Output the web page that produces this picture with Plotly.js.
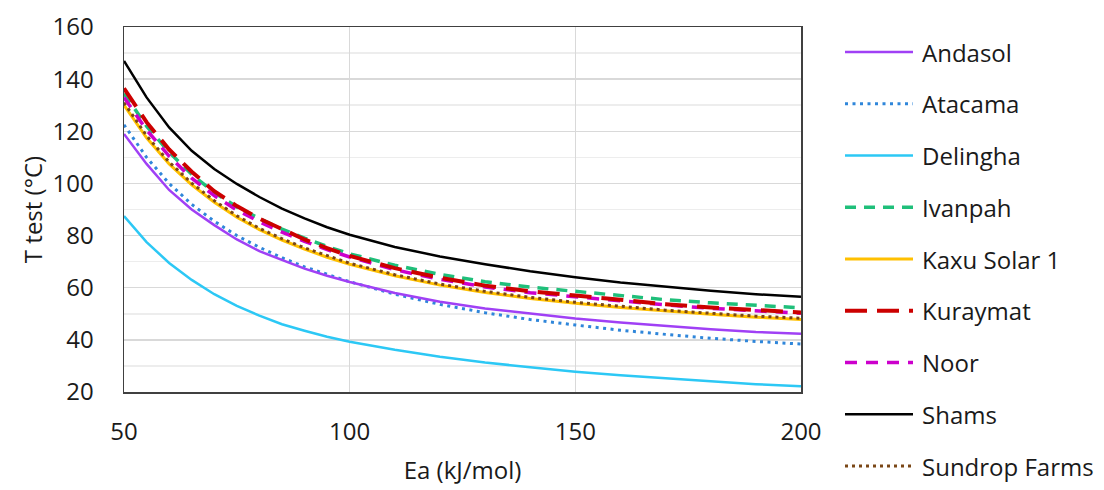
<!DOCTYPE html>
<html>
<head>
<meta charset="utf-8">
<script src="https://cdn.plot.ly/plotly-3.0.1.min.js"></script>
<style>html,body{margin:0;padding:0;background:#fff;}#chart{width:1104px;height:490px;}</style>
</head>
<body>
<div id="chart"></div>
<script>
const ea = [50,55,60,65,70,75,80,85,90,95,100,110,120,130,140,150,160,170,180,190,200];

const andasol  = [119,107.5,97.5,90,84,78.5,74,70.5,67.3,64.6,62.2,58,54.6,52,50,48.2,46.7,45.3,44.1,43,42.3];
const atacama  = [122.5,110,100,92,85.5,80,75.5,71.5,68,65,62.3,57.5,53.6,50.4,47.8,45.7,43.7,42.1,40.6,39.4,38.4];
const delingha = [87.5,77.5,69.5,63,57.5,53,49.3,46,43.5,41.2,39.3,36.2,33.5,31.3,29.5,27.8,26.4,25.2,24,23,22.2];
const ivanpah  = [134.5,122,112,103.5,96.5,91,86.5,82.5,79,75.8,73,68.6,65.1,62.3,60.2,58.6,56.9,55.4,54.2,53.1,52.3];
const kaxu     = [130,117.5,107.5,99.5,92.8,87,82.3,78.3,74.8,71.7,69,64.6,61,58.2,55.9,54,52.4,51,49.8,48.7,47.8];
const kuraymat = [136.5,123.5,113,104.5,97,91.3,86.5,82.3,78.5,75.2,72.2,67.5,63.8,60.8,58.6,57,55.2,53.7,52.4,51.3,50.5];
const noor     = [133,120.5,110.5,102,95.3,89.8,85.3,81.3,77.8,74.6,71.8,66.9,63.2,60.3,58.1,56.5,54.9,53.4,52.1,51,50.2];
const shams    = [147,133,121.5,112.5,105.5,99.8,94.8,90.3,86.6,83.2,80.3,75.6,72,69,66.3,64,62,60.3,58.8,57.5,56.5];
const sundrop  = [131,118.3,108.2,100.1,93.4,87.6,82.8,78.8,75.3,72.2,69.4,65,61.4,58.6,56.3,54.4,52.8,51.4,50.2,49.1,48.3];

const names  = ["Andasol","Atacama","Delingha","Ivanpah","Kaxu Solar 1","Kuraymat","Noor","Shams","Sundrop Farms"];
const series = [andasol, atacama, delingha, ivanpah, kaxu, kuraymat, noor, shams, sundrop];
const colors = ["#A040F5","#2F86DA","#2CC8F5","#1FBF7A","#FFC000","#CC0000","#CC00CC","#000000","#7A4716"];
const dashes = ["solid","3px,4.5px","solid","11px,8px","solid","22px,10px","12px,9px","solid","3px,4px"];
const widths = [2.5,3,2.5,3.5,3,4,3.5,2.5,3];
const order  = [2,1,0,4,8,3,6,5,7]; // drawing order (back to front)

const FONT = "'Open Sans', Lato, sans-serif";
const FS = 24;

const traces = order.map(i => ({
  x: ea, y: series[i], name: names[i], type: "scatter", mode: "lines",
  line: {color: colors[i], width: widths[i], dash: dashes[i]},
  showlegend: false
}));

// custom legend (long sample lines like the reference)
const L = 124, R = 801, T = 27, B = 392;
const pw = R - L, ph = B - T;
const shapes = [], annotations = [];
names.forEach((n, i) => {
  const yc = 52 + i * 51.75;
  const yp = (B - yc) / ph;
  shapes.push({type: "line", xref: "paper", yref: "paper",
    x0: (845 - L) / pw, x1: (913 - L) / pw, y0: yp, y1: yp,
    line: {color: colors[i], width: widths[i], dash: dashes[i]}});
  annotations.push({xref: "paper", yref: "paper", x: (920 - L) / pw, y: yp,
    xanchor: "left", yanchor: "middle", text: n, showarrow: false,
    font: {family: FONT, size: FS, color: "#1a1a1a"}});
});

const layout = {
  width: 1104, height: 490,
  margin: {l: L, r: 1104 - R, t: T, b: 490 - B, pad: 0},
  paper_bgcolor: "#fff", plot_bgcolor: "#fff",
  font: {family: FONT, size: FS, color: "#1a1a1a"},
  showlegend: false,
  xaxis: {
    range: [50, 200], dtick: 50, tick0: 50,
    showgrid: true, gridcolor: "#D9D9D9", gridwidth: 1.5,
    showline: true, linecolor: "#404040", linewidth: 1.5, mirror: true,
    zeroline: false, ticks: "", ticklabelstandoff: 18,
    tickfont: {family: FONT, size: FS, color: "#1a1a1a"},
    title: {text: "Ea (kJ/mol)", font: {family: FONT, size: FS, color: "#1a1a1a"}, standoff: 16}
  },
  yaxis: {
    range: [20, 160], dtick: 20, tick0: 20,
    showgrid: true, gridcolor: "#D9D9D9", gridwidth: 1.5,
    minor: {dtick: 10, showgrid: true, gridcolor: "#EDEDED", gridwidth: 1.5},
    showline: true, linecolor: "#404040", linewidth: 1.5, mirror: true,
    zeroline: false, ticks: "", ticklabelstandoff: 24,
    tickfont: {family: FONT, size: FS, color: "#1a1a1a"},
    title: {text: "T test (°C)", font: {family: FONT, size: FS, color: "#1a1a1a"}, standoff: 3}
  },
  shapes: shapes,
  annotations: annotations
};

Plotly.newPlot("chart", traces, layout, {displayModeBar: false, staticPlot: true});
</script>
</body>
</html>
